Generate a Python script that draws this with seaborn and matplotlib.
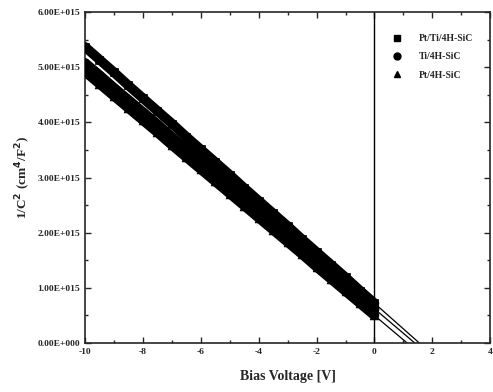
import numpy as np
import pandas as pd
import matplotlib
matplotlib.use("Agg")
import matplotlib.pyplot as plt
import seaborn as sns
from matplotlib.ticker import MultipleLocator, FuncFormatter
from matplotlib.lines import Line2D

#values, 1/C^2 in units of 1E+015
bias = [-10, -9.5, -9, -8.5, -8, -7.5, -7, -6.5, -6, -5.5, -5,
        -4.5, -4, -3.5, -3, -2.5, -2, -1.5, -1, -0.5, 0]
pt_ti = [5.37, 5.14, 4.91, 4.67, 4.44, 4.21, 3.98, 3.74, 3.51, 3.28, 3.05,
         2.81, 2.58, 2.35, 2.12, 1.88, 1.65, 1.42, 1.19, 0.95, 0.72]
ti = [5.08, 4.86, 4.63, 4.41, 4.19, 3.97, 3.74, 3.52, 3.30, 3.07, 2.85,
      2.63, 2.41, 2.18, 1.96, 1.74, 1.51, 1.29, 1.07, 0.84, 0.62]
pt = [4.92, 4.70, 4.48, 4.26, 4.04, 3.82, 3.59, 3.37, 3.15, 2.93, 2.71,
      2.49, 2.27, 2.05, 1.83, 1.61, 1.38, 1.16, 0.94, 0.72, 0.50]
names = ["Pt/Ti/4H-SiC", "Ti/4H-SiC", "Pt/4H-SiC"]
markers = ["s", "o", "^"]

scale = 1e15
frames = []
for name, vals in zip(names, [pt_ti, ti, pt]):
    frames.append(pd.DataFrame({"V": bias, "C": np.array(vals) * scale, "sample": name}))
df = pd.concat(frames, ignore_index=True)

sns.set_style("ticks")
plt.rcParams["font.family"] = ["Liberation Serif", "DejaVu Serif"]
plt.rcParams["font.weight"] = "bold"

fig = plt.figure(figsize=(4.93, 3.92), dpi=100)
ax = fig.add_axes([0.1724, 0.125, 0.822, 0.844])

#linear fits extended to the voltage axis
for name in names:
    sub = df[df["sample"] == name]
    k, b = np.polyfit(sub["V"], sub["C"], 1)
    x0 = -b / k
    ax.plot([-10, x0], [k * -10 + b, 0], color="black", lw=0.9, zorder=2)

#thick marker bands
for name, m in zip(names, markers):
    sub = df[df["sample"] == name]
    sns.lineplot(data=sub, x="V", y="C", ax=ax, color="black", lw=7.0,
                 estimator=None, sort=True, zorder=3, legend=False)
    sns.scatterplot(data=sub, x="V", y="C", ax=ax, color="black", marker=m,
                    s=40, edgecolor="black", zorder=4, legend=False)

ax.axvline(0, color="black", lw=1.0, zorder=1)

ax.set_xlim(-10, 4)
ax.set_ylim(0, 6e15)
ax.xaxis.set_major_locator(MultipleLocator(2))
ax.xaxis.set_minor_locator(MultipleLocator(1))
ax.yaxis.set_major_locator(MultipleLocator(1e15))
ax.yaxis.set_minor_locator(MultipleLocator(0.5e15))


def sci(v, pos):
    if v == 0:
        return "0.00E+000"
    e = int(np.floor(np.log10(abs(v))))
    return f"{v / 10**e:.2f}E+{e:03d}"


ax.yaxis.set_major_formatter(FuncFormatter(sci))
ax.xaxis.set_major_formatter(FuncFormatter(lambda v, p: f"{int(v)}"))
ax.tick_params(which="both", direction="in", top=True, right=True, width=1.0)
ax.tick_params(which="major", length=4, labelsize=6.8)
ax.tick_params(which="minor", length=2)
for s in ax.spines.values():
    s.set_linewidth(1.2)

ax.set_xlabel("Bias Voltage [V]", fontsize=10, fontweight="bold", labelpad=10)
ax.set_ylabel("1/C$^2$ (cm$^4$/F$^2$)", fontsize=9.5, fontweight="bold", labelpad=3)

handles = [Line2D([], [], ls="", marker=m, color="black", markersize=5) for m in markers]
ax.legend(handles, names, loc="upper right", frameon=False, fontsize=7,
          handletextpad=1.3, labelspacing=0.95, bbox_to_anchor=(0.98, 0.96))

fig.savefig("out.png", dpi=100)
